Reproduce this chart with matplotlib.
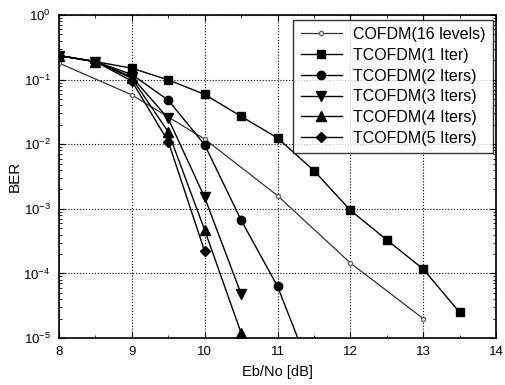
import matplotlib.pyplot as plt
from matplotlib.ticker import MultipleLocator, LogLocator, NullFormatter

plt.rcParams["font.family"] = ["Liberation Sans", "DejaVu Sans"]

# COFDM reference curve
ebno_cofdm = [8, 9, 10, 11, 12, 13]
ber_cofdm = [0.18, 0.058, 0.012, 0.0016, 1.45e-4, 2.0e-5]

# turbo-coded OFDM, per number of iterations
ebno_it1 = [8, 8.5, 9, 9.5, 10, 10.5, 11, 11.5, 12, 12.5, 13, 13.5]
ber_it1 = [0.235, 0.19, 0.15, 0.099, 0.059, 0.027, 0.0125, 0.0039, 9.5e-4, 3.3e-4, 1.17e-4, 2.5e-5]

ebno_it2 = [8, 8.5, 9, 9.5, 10, 10.5, 11, 11.5]
ber_it2 = [0.235, 0.19, 0.12, 0.048, 0.0098, 6.7e-4, 6.3e-5, 2.3e-6]

ebno_it3 = [8, 8.5, 9, 9.5, 10, 10.5]
ber_it3 = [0.235, 0.19, 0.11, 0.025, 1.5e-3, 4.8e-5]

ebno_it4 = [8, 8.5, 9, 9.5, 10, 10.5]
ber_it4 = [0.235, 0.19, 0.105, 0.0155, 4.7e-4, 1.2e-5]

ebno_it5 = [8, 8.5, 9, 9.5, 10]
ber_it5 = [0.235, 0.19, 0.095, 0.011, 2.2e-4]

fig = plt.figure(figsize=(5.05, 3.85), dpi=100)
ax = fig.add_axes([59 / 505, 47 / 385, 437 / 505, 323 / 385])

ax.semilogy(ebno_cofdm, ber_cofdm, color="#333333", lw=0.9, marker="o", ms=3,
            mfc="white", mec="#666666", label="COFDM(16 levels)")
ax.semilogy(ebno_it1, ber_it1, "k-", lw=1, marker="s", ms=5.5, label="TCOFDM(1 Iter)")
ax.semilogy(ebno_it2, ber_it2, "k-", lw=1, marker="o", ms=6, label="TCOFDM(2 Iters)")
ax.semilogy(ebno_it3, ber_it3, "k-", lw=1, marker="v", ms=6.5, label="TCOFDM(3 Iters)")
ax.semilogy(ebno_it4, ber_it4, "k-", lw=1, marker="^", ms=6.5, label="TCOFDM(4 Iters)")
ax.semilogy(ebno_it5, ber_it5, "k-", lw=1, marker="D", ms=5, label="TCOFDM(5 Iters)")

ax.set_xlim(8, 14)
ax.set_ylim(1e-5, 1)
ax.xaxis.set_major_locator(MultipleLocator(1))
ax.xaxis.set_minor_locator(MultipleLocator(0.5))
ax.yaxis.set_major_locator(LogLocator(base=10, numticks=10))
ax.yaxis.set_minor_locator(LogLocator(base=10, subs=range(2, 10), numticks=10))
ax.yaxis.set_minor_formatter(NullFormatter())
ax.tick_params(which="both", direction="in", top=True, right=True, labelsize=9.5)
ax.tick_params(which="major", length=4, pad=6)
ax.tick_params(which="minor", length=2)
ax.grid(True, which="major", linestyle=":", color="black", lw=0.8)

for s in ax.spines.values():
    s.set_linewidth(1.2)

ax.set_xlabel("Eb/No [dB]", fontsize=10.5, labelpad=5)
ax.set_ylabel("BER", fontsize=11, labelpad=1)

leg = ax.legend(loc="upper right", bbox_to_anchor=(0.993, 0.985), fontsize=11.5,
                frameon=True, fancybox=False, edgecolor="black", handlelength=2.6,
                borderaxespad=0, labelspacing=0.36, handletextpad=0.7, borderpad=0.45)
leg.get_frame().set_linewidth(1.0)

plt.savefig("out.png", dpi=100)
plt.close()
